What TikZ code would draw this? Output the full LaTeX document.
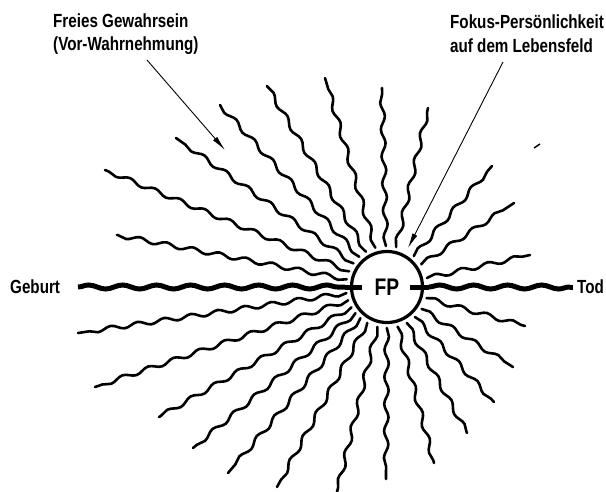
\documentclass[tikz,border=0pt]{standalone}
\usepackage{fontspec}
\setmainfont{Liberation Sans}[FakeStretch=0.8]
\usetikzlibrary{decorations.pathmorphing,arrows.meta,calc}
\begin{document}
\begin{tikzpicture}[x=1pt,y=-1pt,
  ray/.style={line width=2.6pt, line cap=round, decorate, decoration={snake, segment length=27pt, amplitude=2.2pt}},
  lifeline/.style={line width=5pt, decorate, decoration={snake, segment length=34pt, amplitude=2pt}},
  bar/.style={line width=5pt},
  pointer/.style={line width=0.9pt, -{Latex[length=15pt,width=5.5pt]}},
  lbl/.style={font=\bfseries\fontsize{19}{21}\selectfont, inner sep=0pt}]
\useasboundingbox (0,0) rectangle (606,491);
% centre circle
\node[circle, draw, line width=3.2pt, minimum size=71pt, inner sep=0pt, font=\bfseries\fontsize{24}{26}\selectfont] (fp) at (387,287) {FP};
% rays
\foreach \x/\y in {382/88, 325/78, 267/86, 220/105, 176/138, 105/170, 117/235,
                   78/333, 95/387, 159/417, 193/448, 228/473, 277/487, 337/492, 386/479,
                   434/463, 467/433, 494/402, 513/367, 525/326,
                   530/255, 514/203, 492/166, 428/108}
  { \coordinate (e) at (\x,\y);
    \draw[ray] ($(fp.center)!41pt!(e)$) -- (e); }
% life line
\coordinate (gb) at (78,287);
\coordinate (td) at (570,287);
\coordinate (bl) at (345,287);
\coordinate (br) at (429,287);
\draw[lifeline] (gb) -- (bl);
\draw[lifeline] (br) -- (td);
\draw[bar] (bl) -- (362,287);
\draw[bar] (410,287) -- (br);
\draw[bar] (td) -- (573,287);
% labels
\node[lbl, anchor=base west] (geb) at (10,293) {Geburt};
\node[lbl, anchor=base west] (tod) at (577,293) {Tod};
\node[lbl, anchor=base west] (fg1) at (53,27) {Freies Gewahrsein};
\node[lbl, anchor=base west] (fg2) at (53,50) {(Vor-Wahrnehmung)};
\node[lbl, anchor=base west] (fk1) at (450,28) {Fokus-Persönlichkeit};
\node[lbl, anchor=base west] (fk2) at (450,52) {auf dem Lebensfeld};
% pointers
\coordinate (p1s) at (147,60);
\coordinate (p1e) at (225,150);
\coordinate (p2s) at (503,62);
\coordinate (p2e) at (408,248);
\draw[pointer] (p1s) -- (p1e);
\draw[pointer] (p2s) -- (p2e);
% small stray mark
\draw[line width=1.5pt] (534,148) -- (540,144);
\end{tikzpicture}
\end{document}
